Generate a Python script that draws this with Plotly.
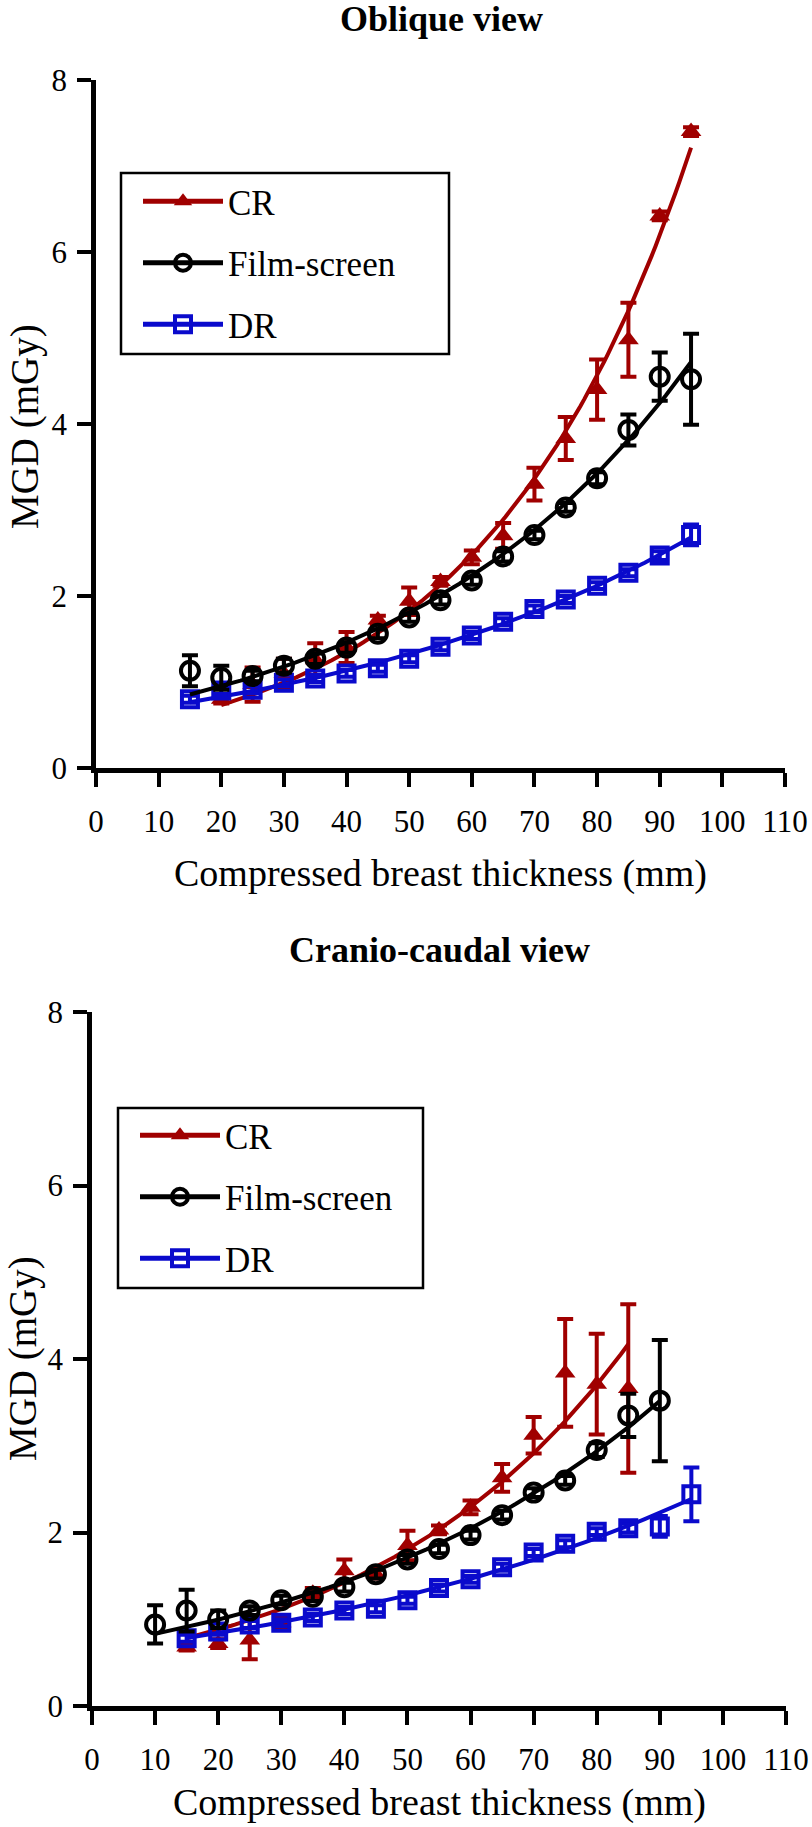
import numpy as np
import plotly.graph_objects as go

# ---------------- data ----------------
# Oblique view
obl_x_cr = [20, 25, 30, 35, 40, 45, 50, 55, 60, 65, 70, 75, 80, 85, 90, 95]
obl_cr = [0.80, 0.97, 1.10, 1.26, 1.40, 1.72, 1.94, 2.17, 2.45, 2.70, 3.30, 3.83, 4.40, 4.98, 6.42, 7.40]
obl_cr_err = [0.05, 0.20, 0.17, 0.19, 0.18, 0.05, 0.16, 0.05, 0.08, 0.15, 0.19, 0.25, 0.35, 0.43, 0.05, 0.05]

obl_x_fs = [15, 20, 25, 30, 35, 40, 45, 50, 55, 60, 65, 70, 75, 80, 85, 90, 95]
obl_fs = [1.13, 1.05, 1.07, 1.19, 1.27, 1.40, 1.56, 1.75, 1.95, 2.18, 2.46, 2.71, 3.03, 3.37, 3.93, 4.55, 4.52]
obl_fs_err = [0.18, 0.14, 0.06, 0.08, 0.06, 0.06, 0.05, 0.05, 0.05, 0.05, 0.06, 0.05, 0.05, 0.07, 0.18, 0.28, 0.53]

obl_x_dr = [15, 20, 25, 30, 35, 40, 45, 50, 55, 60, 65, 70, 75, 80, 85, 90, 95]
obl_dr = [0.80, 0.90, 0.91, 0.99, 1.04, 1.10, 1.16, 1.27, 1.41, 1.54, 1.70, 1.85, 1.96, 2.12, 2.27, 2.47, 2.71]
obl_dr_err = [0.04, 0.04, 0.04, 0.04, 0.04, 0.04, 0.04, 0.04, 0.04, 0.04, 0.04, 0.04, 0.04, 0.04, 0.04, 0.05, 0.12]

# Cranio-caudal view
cc_x_cr = [15, 20, 25, 30, 35, 40, 45, 50, 55, 60, 65, 70, 75, 80, 85]
cc_cr = [0.68, 0.72, 0.76, 0.96, 1.30, 1.56, 1.52, 1.85, 2.03, 2.29, 2.63, 3.12, 3.84, 3.71, 3.66]
cc_cr_err = [0.04, 0.05, 0.22, 0.06, 0.06, 0.13, 0.05, 0.17, 0.05, 0.08, 0.16, 0.21, 0.62, 0.58, 0.97]

cc_x_fs = [10, 15, 20, 25, 30, 35, 40, 45, 50, 55, 60, 65, 70, 75, 80, 85, 90]
cc_fs = [0.94, 1.10, 1.00, 1.10, 1.22, 1.26, 1.37, 1.52, 1.69, 1.81, 1.97, 2.20, 2.46, 2.60, 2.95, 3.35, 3.52]
cc_fs_err = [0.22, 0.24, 0.10, 0.05, 0.05, 0.05, 0.05, 0.05, 0.05, 0.05, 0.05, 0.05, 0.05, 0.05, 0.08, 0.25, 0.70]

cc_x_dr = [15, 20, 25, 30, 35, 40, 45, 50, 55, 60, 65, 70, 75, 80, 85, 90, 95]
cc_dr = [0.78, 0.86, 0.94, 0.96, 1.02, 1.10, 1.12, 1.22, 1.36, 1.46, 1.60, 1.77, 1.87, 2.01, 2.05, 2.07, 2.44]
cc_dr_err = [0.04, 0.04, 0.04, 0.04, 0.04, 0.04, 0.04, 0.04, 0.04, 0.04, 0.04, 0.04, 0.04, 0.04, 0.05, 0.12, 0.31]

x_ticks = [0, 10, 20, 30, 40, 50, 60, 70, 80, 90, 100, 110]
y_ticks = [0, 2, 4, 6, 8]
series_names = ["CR", "Film-screen", "DR"]

# ---------------- styling ----------------
FONT = "Liberation Serif"
RED = "#A00000"
BLACK = "#000000"
BLUE = "#0A0ACC"
W, H = 812, 1827


def expfit(x, y):
    x = np.asarray(x, float)
    y = np.asarray(y, float)
    b, ln_a = np.polyfit(x, np.log(y), 1)
    a = np.exp(ln_a)
    for _ in range(60):
        e = np.exp(b * x)
        J = np.column_stack([e, a * x * e])
        r = y - a * e
        d, *_ = np.linalg.lstsq(J, r, rcond=None)
        a += d[0]
        b += d[1]
    xs = np.linspace(x.min(), x.max(), 120)
    return xs, a * np.exp(b * xs)


styles = {
    "CR": dict(color=RED, symbol="triangle-up", size=18, line=dict(width=0, color=RED)),
    "Film-screen": dict(color="rgba(255,255,255,0)", symbol="circle", size=18,
                        line=dict(width=4, color=BLACK)),
    "DR": dict(color="rgba(255,255,255,0)", symbol="square", size=16,
               line=dict(width=4, color=BLUE)),
}
colors = {"CR": RED, "Film-screen": BLACK, "DR": BLUE}

fig = go.Figure()

panels = [
    ("x", "y", "legend", [("CR", obl_x_cr, obl_cr, obl_cr_err),
                          ("DR", obl_x_dr, obl_dr, obl_dr_err),
                          ("Film-screen", obl_x_fs, obl_fs, obl_fs_err)]),
    ("x2", "y2", "legend2", [("CR", cc_x_cr, cc_cr, cc_cr_err),
                             ("DR", cc_x_dr, cc_dr, cc_dr_err),
                             ("Film-screen", cc_x_fs, cc_fs, cc_fs_err)]),
]

for xa, ya, leg, series in panels:
    for name, xs, ys, es in series:
        c = colors[name]
        fx, fy = expfit(xs, ys)
        fig.add_trace(go.Scatter(x=fx, y=fy, mode="lines", xaxis=xa, yaxis=ya,
                                 line=dict(color=c, width=4), showlegend=False,
                                 hoverinfo="skip"))
        fig.add_trace(go.Scatter(x=xs, y=ys, mode="markers", xaxis=xa, yaxis=ya,
                                 marker=styles[name], showlegend=False,
                                 error_y=dict(type="data", array=es, visible=True,
                                              color=c, thickness=4, width=8)))
    # legend entries in the order CR, Film-screen, DR
    for name in series_names:
        c = colors[name]
        fig.add_trace(go.Scatter(x=[None], y=[None], mode="lines+markers", name=name,
                                 xaxis=xa, yaxis=ya, legend=leg, legendgroup=leg + name,
                                 line=dict(color=c, width=5), marker=styles[name]))

axis_common = dict(showline=True, linewidth=4.5, linecolor="black", ticks="outside",
                   ticklen=14, tickwidth=4, tickcolor="black", showgrid=False,
                   zeroline=False, tickfont=dict(family=FONT, size=31, color="black"),
                   automargin=False)

top_x = [96 / W, 785 / W]
top_y = [1 - 768 / H, 1 - 80 / H]
bot_x = [92 / W, 786 / W]
bot_y = [1 - 1706 / H, 1 - 1012 / H]

leg_common = dict(xanchor="left", yanchor="top", font=dict(family=FONT, size=35),
                  itemwidth=80, tracegroupgap=13, bgcolor="rgba(0,0,0,0)", borderwidth=0)

fig.update_layout(
    width=W, height=H, autosize=False,
    margin=dict(l=0, r=0, t=0, b=0),
    paper_bgcolor="white", plot_bgcolor="white",
    font=dict(family=FONT, color="black"),
    xaxis=dict(domain=top_x, range=[0, 110], tickvals=x_ticks, anchor="y",
               ticklabelstandoff=8, **axis_common),
    yaxis=dict(domain=top_y, range=[0, 8], tickvals=y_ticks, anchor="x",
               ticklabelstandoff=4, **axis_common),
    xaxis2=dict(domain=bot_x, range=[0, 110], tickvals=x_ticks, anchor="y2",
                ticklabelstandoff=8, **axis_common),
    yaxis2=dict(domain=bot_y, range=[0, 8], tickvals=y_ticks, anchor="x2",
                ticklabelstandoff=4, **axis_common),
    legend=dict(x=138 / W, y=1 - 172 / H, **leg_common),
    legend2=dict(x=135 / W, y=1 - 1106 / H, **leg_common),
    shapes=[
        dict(type="rect", xref="paper", yref="paper", x0=121 / W, x1=449 / W,
             y0=1 - 354 / H, y1=1 - 173 / H, line=dict(color="black", width=2.5)),
        dict(type="rect", xref="paper", yref="paper", x0=118 / W, x1=423 / W,
             y0=1 - 1288 / H, y1=1 - 1108 / H, line=dict(color="black", width=2.5)),
    ],
    annotations=[
        dict(text="<b>Oblique view</b>", x=441 / W, y=1 - 19 / H, xref="paper", yref="paper",
             showarrow=False, font=dict(family=FONT, size=36), xanchor="center", yanchor="middle"),
        dict(text="<b>Cranio-caudal view</b>", x=439 / W, y=1 - 950 / H, xref="paper",
             yref="paper", showarrow=False, font=dict(family=FONT, size=36),
             xanchor="center", yanchor="middle"),
        dict(text="Compressed breast thickness (mm)", x=440 / W, y=1 - 873 / H, xref="paper",
             yref="paper", showarrow=False, font=dict(family=FONT, size=38),
             xanchor="center", yanchor="middle"),
        dict(text="Compressed breast thickness (mm)", x=439 / W, y=1 - 1802 / H, xref="paper",
             yref="paper", showarrow=False, font=dict(family=FONT, size=38),
             xanchor="center", yanchor="middle"),
        dict(text="MGD (mGy)", x=25 / W, y=1 - 427 / H, xref="paper", yref="paper",
             showarrow=False, textangle=-90, font=dict(family=FONT, size=39),
             xanchor="center", yanchor="middle"),
        dict(text="MGD (mGy)", x=23 / W, y=1 - 1359 / H, xref="paper", yref="paper",
             showarrow=False, textangle=-90, font=dict(family=FONT, size=39),
             xanchor="center", yanchor="middle"),
    ],
)

fig.write_html("out.html", config={"displayModeBar": False},
               post_script="document.body.style.margin='0px';document.body.style.padding='0px';")
